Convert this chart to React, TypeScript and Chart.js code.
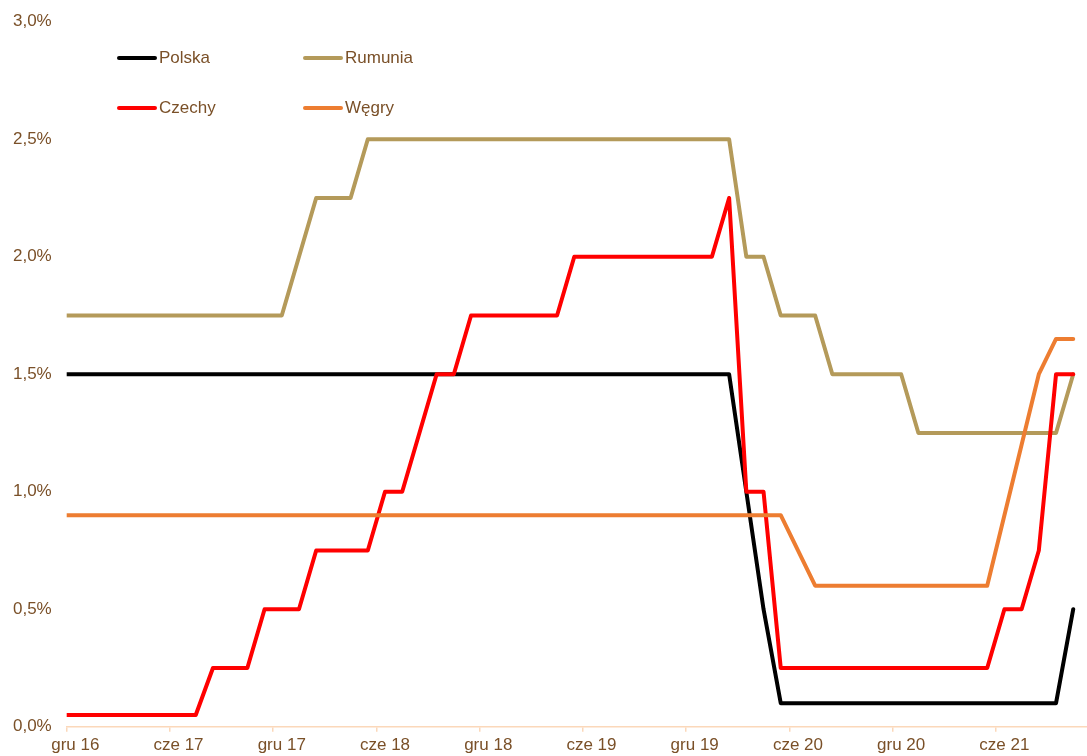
import React, { useEffect, useRef } from "react";
import { Chart, registerables } from "chart.js";

Chart.register(...registerables);

// Monthly categories (Nov 2016 is only the clipped lead-in at the left edge)
const MONTHS = [
  "lis 16", "gru 16",
  "sty 17", "lut 17", "mar 17", "kwi 17", "maj 17", "cze 17", "lip 17", "sie 17", "wrz 17", "paź 17", "lis 17", "gru 17",
  "sty 18", "lut 18", "mar 18", "kwi 18", "maj 18", "cze 18", "lip 18", "sie 18", "wrz 18", "paź 18", "lis 18", "gru 18",
  "sty 19", "lut 19", "mar 19", "kwi 19", "maj 19", "cze 19", "lip 19", "sie 19", "wrz 19", "paź 19", "lis 19", "gru 19",
  "sty 20", "lut 20", "mar 20", "kwi 20", "maj 20", "cze 20", "lip 20", "sie 20", "wrz 20", "paź 20", "lis 20", "gru 20",
  "sty 21", "lut 21", "mar 21", "kwi 21", "maj 21", "cze 21", "lip 21", "sie 21", "wrz 21", "paź 21",
];

const TICK_LABELS = ["gru 16", "cze 17", "gru 17", "cze 18", "gru 18", "cze 19", "gru 19", "cze 20", "gru 20", "cze 21"];

const POLSKA = [
  1.5, 1.5,
  1.5, 1.5, 1.5, 1.5, 1.5, 1.5, 1.5, 1.5, 1.5, 1.5, 1.5, 1.5,
  1.5, 1.5, 1.5, 1.5, 1.5, 1.5, 1.5, 1.5, 1.5, 1.5, 1.5, 1.5,
  1.5, 1.5, 1.5, 1.5, 1.5, 1.5, 1.5, 1.5, 1.5, 1.5, 1.5, 1.5,
  1.5, 1.5, 1.0, 0.5, 0.1, 0.1, 0.1, 0.1, 0.1, 0.1, 0.1, 0.1,
  0.1, 0.1, 0.1, 0.1, 0.1, 0.1, 0.1, 0.1, 0.1, 0.5,
];

const CZECHY = [
  0.05, 0.05,
  0.05, 0.05, 0.05, 0.05, 0.05, 0.05, 0.05, 0.25, 0.25, 0.25, 0.5, 0.5,
  0.5, 0.75, 0.75, 0.75, 0.75, 1.0, 1.0, 1.25, 1.5, 1.5, 1.75, 1.75,
  1.75, 1.75, 1.75, 1.75, 2.0, 2.0, 2.0, 2.0, 2.0, 2.0, 2.0, 2.0,
  2.0, 2.25, 1.0, 1.0, 0.25, 0.25, 0.25, 0.25, 0.25, 0.25, 0.25, 0.25,
  0.25, 0.25, 0.25, 0.25, 0.25, 0.5, 0.5, 0.75, 1.5, 1.5,
];

const RUMUNIA = [
  1.75, 1.75,
  1.75, 1.75, 1.75, 1.75, 1.75, 1.75, 1.75, 1.75, 1.75, 1.75, 1.75, 1.75,
  2.0, 2.25, 2.25, 2.25, 2.5, 2.5, 2.5, 2.5, 2.5, 2.5, 2.5, 2.5,
  2.5, 2.5, 2.5, 2.5, 2.5, 2.5, 2.5, 2.5, 2.5, 2.5, 2.5, 2.5,
  2.5, 2.5, 2.0, 2.0, 1.75, 1.75, 1.75, 1.5, 1.5, 1.5, 1.5, 1.5,
  1.25, 1.25, 1.25, 1.25, 1.25, 1.25, 1.25, 1.25, 1.25, 1.5,
];

const WEGRY = [
  0.9, 0.9,
  0.9, 0.9, 0.9, 0.9, 0.9, 0.9, 0.9, 0.9, 0.9, 0.9, 0.9, 0.9,
  0.9, 0.9, 0.9, 0.9, 0.9, 0.9, 0.9, 0.9, 0.9, 0.9, 0.9, 0.9,
  0.9, 0.9, 0.9, 0.9, 0.9, 0.9, 0.9, 0.9, 0.9, 0.9, 0.9, 0.9,
  0.9, 0.9, 0.9, 0.9, 0.9, 0.75, 0.6, 0.6, 0.6, 0.6, 0.6, 0.6,
  0.6, 0.6, 0.6, 0.6, 0.6, 0.9, 1.2, 1.5, 1.65, 1.65,
];

const SERIES = [
  { name: "Polska", data: POLSKA, color: "#000000", order: 4 },
  { name: "Rumunia", data: RUMUNIA, color: "#B49A5A", order: 3 },
  { name: "Czechy", data: CZECHY, color: "#FF0000", order: 2 },
  { name: "Węgry", data: WEGRY, color: "#ED7D31", order: 1 },
];

const TEXT_COLOR = "#7A5028";
const AXIS_COLOR = "#FBD8BA";
const FONT = "'Liberation Sans', Arial, sans-serif";

const LEGEND_POS = [
  { name: "Polska", left: 117, top: 58 },
  { name: "Rumunia", left: 303, top: 58 },
  { name: "Czechy", left: 117, top: 108 },
  { name: "Węgry", left: 303, top: 108 },
];

export default function App() {
  const canvasRef = useRef<HTMLCanvasElement | null>(null);

  useEffect(() => {
    document.body.style.margin = "0";
    const canvas = canvasRef.current;
    if (!canvas) return;
    Chart.defaults.font.family = FONT;

    const chart = new Chart(canvas, {
      type: "line",
      data: {
        datasets: SERIES.map((s) => ({
          label: s.name,
          data: MONTHS.map((_, i) => ({ x: i - 1, y: s.data[i] })),
          borderColor: s.color,
          backgroundColor: s.color,
          borderWidth: 4,
          pointRadius: 0,
          tension: 0,
          borderJoinStyle: "round" as const,
          borderCapStyle: "round" as const,
          order: s.order,
        })),
      },
      options: {
        animation: false,
        responsive: false,
        maintainAspectRatio: false,
        devicePixelRatio: 1,
        layout: { padding: { top: 21.7, right: 0, bottom: 0, left: 0 } },
        plugins: {
          legend: { display: false },
          tooltip: { enabled: false },
        },
        scales: {
          x: {
            type: "linear",
            min: -0.5,
            max: 58.8,
            afterBuildTicks: (scale: any) => {
              scale.ticks = TICK_LABELS.map((l) => ({ value: MONTHS.indexOf(l) - 1.5 }));
            },
            afterFit: (scale: any) => {
              scale.height = 29.3;
              scale.paddingLeft = 0;
              scale.paddingRight = 0;
            },
            ticks: {
              autoSkip: false,
              maxRotation: 0,
              minRotation: 0,
              labelOffset: 8.6,
              padding: 3,
              color: TEXT_COLOR,
              font: { size: 17, family: FONT },
              callback: (_v: any, i: number) => TICK_LABELS[i],
            },
            grid: {
              drawOnChartArea: false,
              drawTicks: true,
              tickLength: 5,
              color: AXIS_COLOR,
              lineWidth: 1.5,
            },
            border: { display: true, color: AXIS_COLOR, width: 1.5 },
          },
          y: {
            type: "linear",
            min: 0,
            max: 3,
            afterFit: (scale: any) => {
              scale.width = 66.7;
              scale.paddingTop = 0;
              scale.paddingBottom = 0;
            },
            ticks: {
              stepSize: 0.5,
              padding: 15,
              color: TEXT_COLOR,
              font: { size: 17, family: FONT },
              callback: (v: any) => Number(v).toFixed(1).replace(".", ",") + "%",
            },
            grid: { display: false, drawTicks: false },
            border: { display: false },
          },
        },
      },
    });

    return () => chart.destroy();
  }, []);

  return (
    <div style={{ position: "relative", width: 1087, height: 756, fontFamily: FONT }}>
      <canvas ref={canvasRef} width={1087} height={756} style={{ display: "block" }} />
      {LEGEND_POS.map((item) => {
        const s = SERIES.find((x) => x.name === item.name)!;
        return (
          <div
            key={item.name}
            style={{
              position: "absolute",
              left: item.left,
              top: item.top - 11,
              height: 22,
              display: "flex",
              alignItems: "center",
              whiteSpace: "nowrap",
            }}
          >
            <span
              style={{
                display: "inline-block",
                width: 40,
                height: 4,
                borderRadius: 2,
                background: s.color,
                marginRight: 2,
              }}
            />
            <span style={{ color: TEXT_COLOR, fontSize: 17, lineHeight: "22px" }}>{item.name}</span>
          </div>
        );
      })}
    </div>
  );
}
